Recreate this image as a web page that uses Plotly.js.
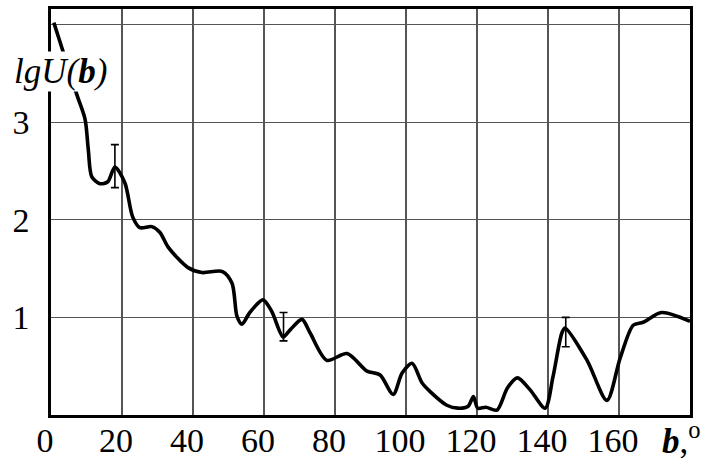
<!DOCTYPE html>
<html>
<head>
<meta charset="utf-8">
<script src="https://cdn.plot.ly/plotly-3.0.1.min.js"></script>
<style>html,body{margin:0;padding:0;background:#fff;}#chart{width:707px;height:459px;}</style>
</head>
<body>
<div id="chart"></div>
<script>
// Angle b (degrees) and lg U(b)
var angleB = [0.8, 2.3, 7.3, 9.6, 10.5, 11.5, 13.8, 16, 18, 20.8, 23, 25, 28.4, 30.7, 33, 38.6, 42.5, 48.3, 51, 52.4, 53.8, 56, 59.7, 62.2, 65.4, 67.3, 70.7, 73, 77.7, 83.4, 89, 92.7, 96.4, 98.9, 101.7, 104.5, 106.8, 111.5, 114.6, 117.5, 119, 120.2, 122.5, 125.6, 128.6, 131.4, 134.9, 139.2, 141.4, 143.9, 144.8, 151, 156.6, 160.3, 164, 166.8, 172, 180];
var lgU = [4.02, 3.85, 3.28, 3.03, 2.72, 2.44, 2.37, 2.39, 2.54, 2.38, 2.03, 1.92, 1.93, 1.87, 1.72, 1.51, 1.46, 1.47, 1.35, 1.01, 0.93, 1.05, 1.18, 1.06, 0.80, 0.87, 0.98, 0.84, 0.56, 0.63, 0.45, 0.41, 0.21, 0.43, 0.53, 0.33, 0.24, 0.10, 0.07, 0.09, 0.19, 0.07, 0.08, 0.05, 0.28, 0.38, 0.26, 0.07, 0.39, 0.84, 0.89, 0.56, 0.15, 0.58, 0.92, 0.95, 1.05, 0.96];

// Error bars
var errX = [18, 65.5, 145];
var errCenter = [2.55, 0.905, 0.85];
var errHalf = [0.22, 0.145, 0.15];

var xTickVals = [0, 20, 40, 60, 80, 100, 120, 140, 160];
var xTickText = ["0", "20", "40", "60", "80", "100", "120", "140", "160"];
var yTickVals = [1, 2, 3, 4];
var yTickText = ["1", "2", "3", " "];

var serif = "Times New Roman, Times, serif";

var traces = [
  {
    x: angleB, y: lgU, type: "scatter", mode: "lines",
    line: {color: "#000", width: 3.6, shape: "spline", smoothing: 0.8},
    hoverinfo: "skip", showlegend: false
  },
  {
    x: errX, y: errCenter, type: "scatter", mode: "markers",
    marker: {size: 0.1, color: "rgba(0,0,0,0)"},
    error_y: {type: "data", array: errHalf, visible: true, color: "#000", thickness: 1.6, width: 4},
    hoverinfo: "skip", showlegend: false
  }
];

var layout = {
  width: 707, height: 459,
  margin: {l: 51, r: 17, t: 9, b: 44, pad: 0},
  paper_bgcolor: "#fff", plot_bgcolor: "#fff",
  font: {family: serif, size: 34, color: "#000"},
  showlegend: false,
  xaxis: {
    range: [0, 180], tickvals: xTickVals, ticktext: xTickText,
    showgrid: true, gridcolor: "#555", gridwidth: 1.2,
    showline: true, linecolor: "#000", linewidth: 2.6, mirror: true,
    ticks: "", zeroline: false, ticklabelshift: -6, ticklabelstandoff: -6,
    tickfont: {family: serif, size: 34, color: "#000"}
  },
  yaxis: {
    range: [0, 4.16], tickvals: yTickVals, ticktext: yTickText,
    showgrid: true, gridcolor: "#555", gridwidth: 1.2,
    showline: true, linecolor: "#000", linewidth: 2.6, mirror: true,
    ticks: "", zeroline: false, ticklabelstandoff: 12,
    tickfont: {family: serif, size: 34, color: "#000"}
  },
  annotations: [
    {
      xref: "paper", yref: "paper", x: -0.06, y: 0.845, xanchor: "left", yanchor: "middle",
      text: "<i>lgU(</i><b><i>b</i></b><i>)</i>", showarrow: false,
      font: {family: serif, size: 35, color: "#000"},
      bgcolor: "#fff", borderpad: 0
    },
    {
      xref: "paper", yref: "paper", x: 1.0, y: -0.058, xanchor: "right", yanchor: "middle",
      text: "<b><i>b</i></b>,<sup>o</sup>", showarrow: false,
      font: {family: serif, size: 35, color: "#000"},
      xshift: 13
    }
  ]
};

Plotly.newPlot("chart", traces, layout, {displayModeBar: false, staticPlot: true});
</script>
</body>
</html>
